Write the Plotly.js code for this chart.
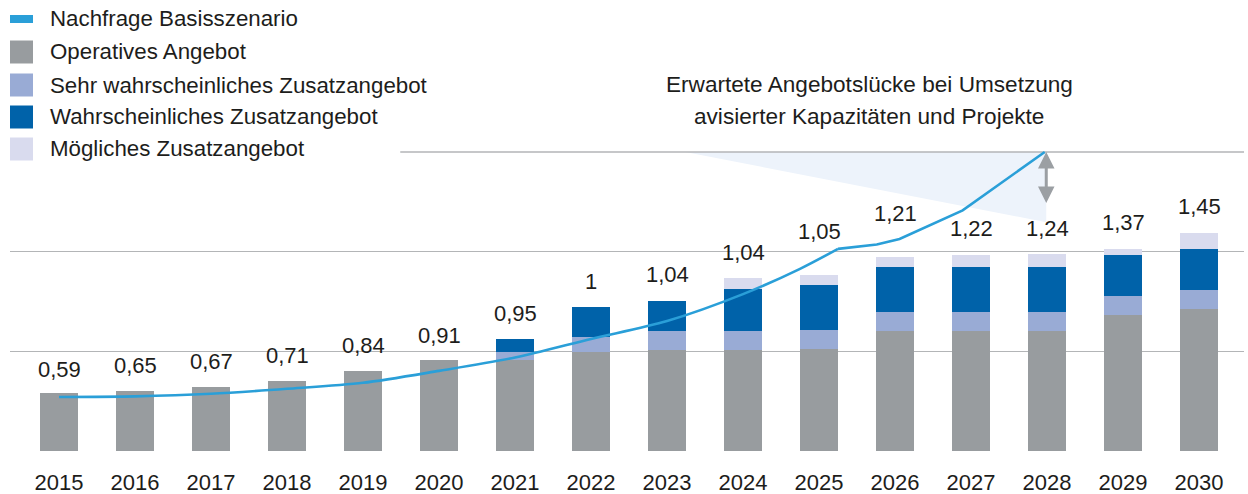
<!DOCTYPE html>
<html>
<head>
<meta charset="utf-8">
<script src="https://cdn.plot.ly/plotly-3.0.1.min.js"></script>
<style>
  html, body { margin: 0; padding: 0; background: #ffffff; }
  #chart { width: 1248px; height: 494px; }
</style>
</head>
<body>
<div id="chart"></div>
<script>
// ---- Data ----
const years = [2015, 2016, 2017, 2018, 2019, 2020, 2021, 2022, 2023, 2024, 2025, 2026, 2027, 2028, 2029, 2030];
const yearLabels = ["2015", "2016", "2017", "2018", "2019", "2020", "2021", "2022", "2023", "2024", "2025", "2026", "2027", "2028", "2029", "2030"];

const operativesAngebot = [0.29, 0.30, 0.32, 0.35, 0.40, 0.455, 0.455, 0.495, 0.508, 0.508, 0.51, 0.60, 0.60, 0.60, 0.68, 0.71];
const sehrWahrscheinlich = [0, 0, 0, 0, 0, 0, 0.04, 0.075, 0.095, 0.095, 0.095, 0.095, 0.095, 0.095, 0.10, 0.10];
const wahrscheinlich = [0, 0, 0, 0, 0, 0, 0.065, 0.15, 0.15, 0.21, 0.23, 0.23, 0.23, 0.23, 0.205, 0.205];
const moeglich = [0, 0, 0, 0, 0, 0, 0, 0, 0, 0.054, 0.05, 0.05, 0.06, 0.065, 0.03, 0.08];

const valueLabels = ["0,59", "0,65", "0,67", "0,71", "0,84", "0,91", "0,95", "1", "1,04", "1,04", "1,05", "1,21", "1,22", "1,24", "1,37", "1,45"];
const valueLabelHeights = [0.41, 0.43, 0.45, 0.48, 0.53, 0.58, 0.69, 0.85, 0.885, 0.995, 1.10, 1.19, 1.115, 1.115, 1.145, 1.228];

// Demand line: smooth part and the later straight segments
const demandX1 = [2015, 2016, 2017, 2018, 2019, 2020, 2021, 2022, 2023, 2024, 2024.75, 2025.25];
const demandY1 = [0.271, 0.274, 0.287, 0.312, 0.342, 0.402, 0.469, 0.562, 0.652, 0.787, 0.914, 1.014];
const demandX2 = [2025.25, 2025.76, 2026.06, 2026.89, 2027.97];
const demandY2 = [1.014, 1.036, 1.064, 1.207, 1.50];

const legendNames = ["Nachfrage Basisszenario", "Operatives Angebot", "Sehr wahrscheinliches Zusatzangebot", "Wahrscheinliches Zusatzangebot", "Mögliches Zusatzangebot"];
const calloutText = ["Erwartete Angebotslücke bei Umsetzung", "avisierter Kapazitäten und Projekte"];

// ---- Styles ----
const FONT = '"Liberation Sans", Arial, Helvetica, sans-serif';
const TXT = '#1d1d1b';
const C_GREY = '#989c9f';
const C_SEHR = '#99abd5';
const C_WAHR = '#0062a9';
const C_MOEG = '#d9dbee';
const C_LINE = '#2a9fd8';
const C_GRID = '#b3b5b7';

const W = 1248, H = 494;
const M = {l: 10, r: 4, t: 0, b: 43};
const plotW = W - M.l - M.r, plotH = H - M.t - M.b;
const xRange = [2014.355, 2030.592];
const yRange = [0, 2.2625];
const px = X => (X - M.l) / plotW;
const py = Y => 1 - (Y - M.t) / plotH;

function barTrace(vals, color, name) {
  return {
    type: 'bar', x: years, y: vals, name: name, width: 0.5,
    marker: {color: color, line: {width: 0}},
    hoverinfo: 'skip', showlegend: false
  };
}

const traces = [
  barTrace(operativesAngebot, C_GREY, legendNames[1]),
  barTrace(sehrWahrscheinlich, C_SEHR, legendNames[2]),
  barTrace(wahrscheinlich, C_WAHR, legendNames[3]),
  barTrace(moeglich, C_MOEG, legendNames[4]),
  {type: 'scatter', mode: 'lines', x: demandX1, y: demandY1, name: legendNames[0],
   line: {color: C_LINE, width: 2.6, shape: 'spline', smoothing: 0.8}, hoverinfo: 'skip', showlegend: false},
  {type: 'scatter', mode: 'lines', x: demandX2, y: demandY2, name: legendNames[0],
   line: {color: C_LINE, width: 2.6}, hoverinfo: 'skip', showlegend: false}
];

const shapes = [
  // shaded callout wedge
  {type: 'path', xref: 'x', yref: 'y', layer: 'below',
   path: 'M 2023.24,1.5 L 2027.99,1.5 L 2027.99,1.148 Z',
   fillcolor: '#edf3fb', line: {width: 0}},
  // partial top gridline
  {type: 'line', xref: 'x', yref: 'y', layer: 'below', x0: 2019.49, x1: xRange[1], y0: 1.5, y1: 1.5,
   line: {color: C_GRID, width: 1.5}}
];

// Manual legend
const legendRows = [19, 52, 85, 117, 149];
const annotations = [];
legendRows.forEach((yc, i) => {
  if (i === 0) {
    shapes.push({type: 'rect', xref: 'paper', yref: 'paper', x0: px(10), x1: px(33), y0: py(23), y1: py(15),
      fillcolor: C_LINE, line: {width: 0}});
  } else {
    const col = [null, C_GREY, C_SEHR, C_WAHR, C_MOEG][i];
    shapes.push({type: 'rect', xref: 'paper', yref: 'paper', x0: px(10), x1: px(33), y0: py(yc + 11.5), y1: py(yc - 11.5),
      fillcolor: col, line: {width: 0}});
  }
  annotations.push({xref: 'paper', yref: 'paper', x: px(48), y: py(yc), xanchor: 'left', yanchor: 'middle',
    text: legendNames[i], showarrow: false, font: {family: FONT, size: 22.3, color: TXT}});
});

// Callout title
annotations.push({xref: 'paper', yref: 'paper', x: px(869), y: py(84), xanchor: 'center', yanchor: 'middle',
  text: calloutText[0], showarrow: false, font: {family: FONT, size: 22.6, color: TXT}});
annotations.push({xref: 'paper', yref: 'paper', x: px(869), y: py(117), xanchor: 'center', yanchor: 'middle',
  text: calloutText[1], showarrow: false, font: {family: FONT, size: 22.6, color: TXT}});

// Double arrow for the gap
annotations.push({xref: 'x', yref: 'y', axref: 'x', ayref: 'y',
  x: 2027.99, y: 1.5, ax: 2027.99, ay: 1.237, text: '', showarrow: true,
  arrowside: 'end+start', arrowhead: 2, startarrowhead: 2, arrowsize: 1.1, startarrowsize: 1.1,
  arrowwidth: 3, arrowcolor: '#9b9fa3', standoff: 0, startstandoff: 0});

// Value labels
years.forEach((yr, i) => {
  annotations.push({xref: 'x', yref: 'y', x: yr, y: valueLabelHeights[i], text: valueLabels[i],
    showarrow: false, xanchor: 'center', yanchor: 'middle', font: {family: FONT, size: 22, color: TXT}});
});

const layout = {
  width: W, height: H,
  margin: M,
  paper_bgcolor: '#ffffff', plot_bgcolor: '#ffffff',
  barmode: 'stack',
  showlegend: false,
  font: {family: FONT, size: 22, color: TXT},
  xaxis: {
    type: 'linear', range: xRange, tickmode: 'array', tickvals: years, ticktext: yearLabels,
    showgrid: false, zeroline: false, showline: false, ticks: '', ticklabelstandoff: 16,
    tickfont: {family: FONT, size: 22, color: TXT}, fixedrange: true
  },
  yaxis: {
    range: yRange, tickmode: 'array', tickvals: [0, 0.5, 1.0], showticklabels: false,
    showgrid: true, gridcolor: C_GRID, gridwidth: 1.5, zeroline: false, showline: false, ticks: '',
    fixedrange: true
  },
  shapes: shapes,
  annotations: annotations
};

Plotly.newPlot('chart', traces, layout, {displayModeBar: false, staticPlot: true});
</script>
</body>
</html>
